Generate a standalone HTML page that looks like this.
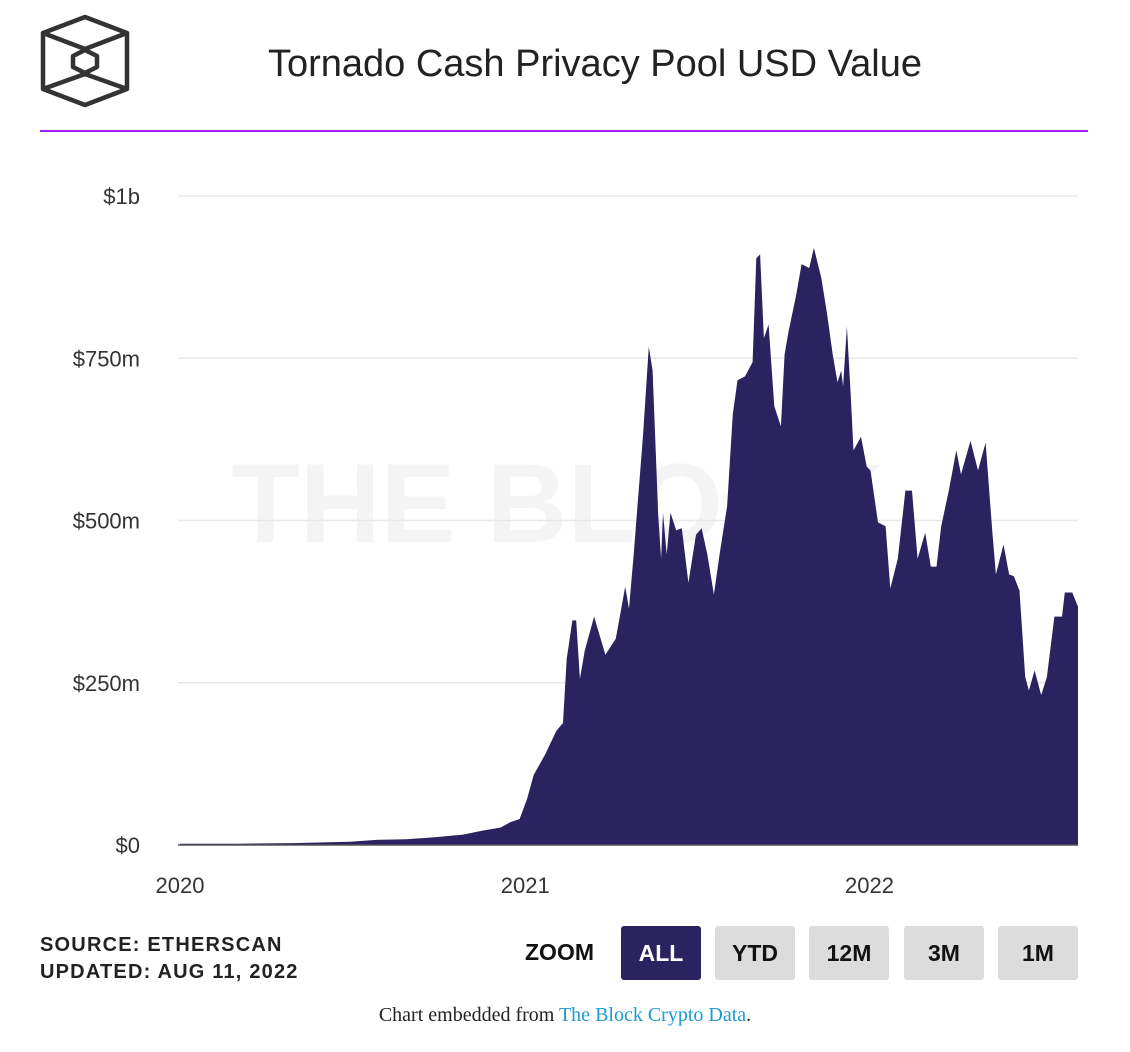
<!DOCTYPE html>
<html><head><meta charset="utf-8"><style>
body{margin:0;background:#fff;width:1130px;height:1052px;overflow:hidden;font-family:"Liberation Sans",sans-serif;position:relative}
.abs{position:absolute}
.btn{position:absolute;top:926px;width:80px;height:54px;background:#dcdcdc;border-radius:3px;font:bold 23px "Liberation Sans",sans-serif;color:#111;display:flex;align-items:center;justify-content:center}
</style></head><body>
<svg class="abs" style="left:0;top:0" width="140" height="130">
<g fill="none" stroke="#333" stroke-width="4.5" stroke-linejoin="round">
<polygon points="85,17 127,33 127,89 85,105 43,89 43,33"/>
<polygon points="85,50 97,56 97,67 85,73 73,67 73,56"/>
<line x1="43" y1="33" x2="85" y2="49"/><line x1="127" y1="33" x2="85" y2="49"/>
<line x1="43" y1="89" x2="85" y2="74"/><line x1="127" y1="89" x2="85" y2="74"/>
</g></svg>
<div class="abs" style="left:190px;width:810px;top:43px;text-align:center;font-size:38px;color:#222">Tornado Cash Privacy Pool USD Value</div>
<div class="abs" style="left:40px;top:130px;width:1048px;height:2px;background:#a11ff2"></div>
<svg id="chart" class="abs" style="left:0;top:150px" width="1130" height="760"></svg>
<div class="abs" style="left:40px;top:932px;font:bold 20px 'Liberation Sans',sans-serif;letter-spacing:1.2px;color:#222;line-height:27px">SOURCE: ETHERSCAN<br>UPDATED: AUG 11, 2022</div>
<div class="abs" style="left:525px;top:939px;font:bold 23px 'Liberation Sans',sans-serif;color:#111">ZOOM</div>
<div class="btn" style="left:621px;background:#2b2260;color:#fff">ALL</div>
<div class="btn" style="left:715px">YTD</div>
<div class="btn" style="left:809px">12M</div>
<div class="btn" style="left:904px">3M</div>
<div class="btn" style="left:998px">1M</div>
<div class="abs" style="left:0;width:1130px;top:1004px;text-align:center;font:20px 'Liberation Serif',serif;color:#222">Chart embedded from <span style="color:#1c9ad6">The Block Crypto Data</span>.</div>
<script>
const days=[0,60,120,180,210,240,270,300,320,340,350,360,368,375,387,399,406,410,416,420,424,429,439,451,462,472,476,481,491,497,501,507,510,512,516,520,526,532,539,547,553,559,566,572,580,586,591,599,607,611,615,619,624,630,637,641,645,653,659,667,672,680,686,692,697,701,703,707,711,714,722,728,732,740,748,753,761,769,776,782,790,796,802,807,815,823,828,838,846,854,861,865,873,879,884,890,896,900,906,913,919,927,935,938,946,952];
const values=[2,2,3,5,8,9,12,16,22,27,35,40,71,108,139,176,188,287,346,346,256,299,352,293,318,398,364,448,633,768,731,509,441,512,448,512,485,488,404,478,488,448,386,448,522,664,716,722,744,904,910,781,802,676,645,756,790,846,895,889,920,873,818,756,713,731,707,799,694,608,629,583,577,497,491,395,441,546,546,441,481,429,429,491,546,608,571,623,577,620,485,417,463,417,414,392,259,238,269,231,259,352,352,389,389,367];
const yTicks=[0,250,500,750,1000];
const yTickLabels=["$0","$250m","$500m","$750m","$1b"];
const xTickDays=[0,366,731];
const xTickLabels=["2020","2021","2022"];
const NS="http://www.w3.org/2000/svg",svg=document.getElementById('chart');
const X0=180,X1=1078,DMAX=952,Y0=695,YS=0.649;
const xs=d=>X0+(X1-X0)*d/DMAX, ys=v=>Y0-v*YS;
function mk(t,a){const e=document.createElementNS(NS,t);for(const k in a)e.setAttribute(k,a[k]);svg.appendChild(e);return e;}
const wm=mk('text',{x:558,y:392,'text-anchor':'middle','font-size':112,'font-weight':'bold',fill:'#f4f4f4','font-family':'Liberation Sans, sans-serif'});
wm.textContent='THE BLOCK';


yTicks.forEach((v,i)=>{
 if(v>0){const g=mk('line',{x1:178,x2:1078,y1:ys(v),y2:ys(v),stroke:'#e8e8e8','stroke-width':1.5});
 
 }
 const t=mk('text',{x:140,y:ys(v)+8,'text-anchor':'end','font-size':22,fill:'#333','font-family':'Liberation Sans, sans-serif'});
 t.textContent=yTickLabels[i];
 
 
});
let d='M'+xs(days[0])+','+Y0;
days.forEach((dd,i)=>{d+='L'+xs(dd).toFixed(1)+','+ys(values[i]).toFixed(1);});
d+='L'+xs(days[days.length-1])+','+Y0+'Z';
const area=mk('path',{d:d,fill:'#2b2360'});


const ax=mk('line',{x1:178,x2:1078,y1:Y0,y2:Y0,stroke:'#555','stroke-width':1.5});


xTickDays.forEach((dd,i)=>{
 const t=mk('text',{x:xs(dd),y:Y0+48,'text-anchor':'middle','font-size':22,fill:'#333','font-family':'Liberation Sans, sans-serif'});
 t.textContent=xTickLabels[i];
 
 
});
</script>
</body></html>
